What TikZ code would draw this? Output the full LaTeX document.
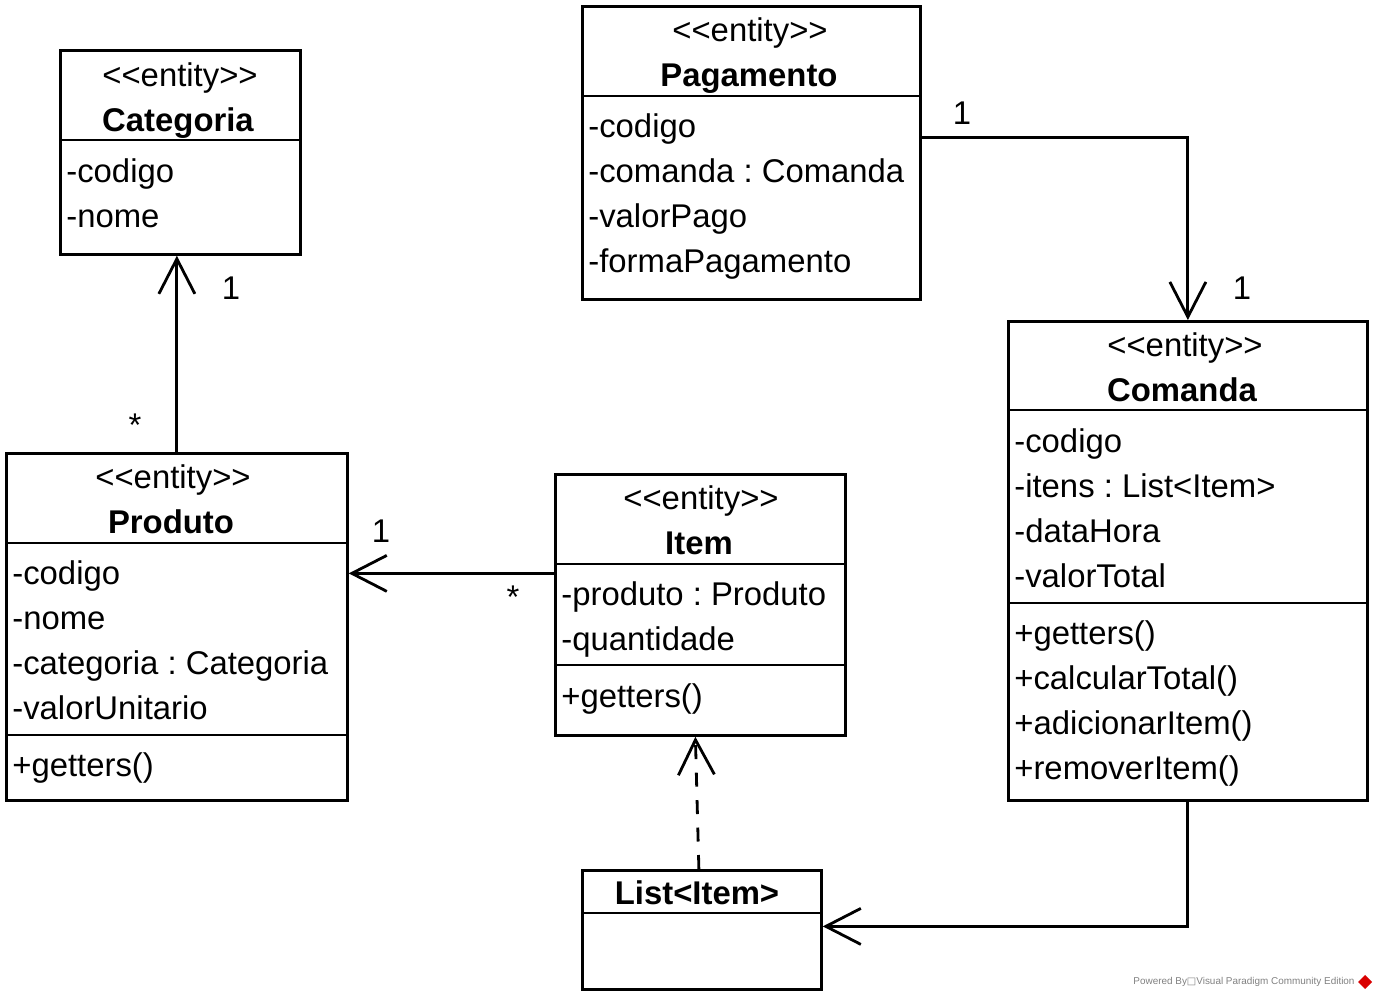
\documentclass[tikz,border=0pt]{standalone}
\usepackage{fontspec}
\setmainfont{Liberation Sans}
\newfontfamily\symfont{DejaVu Sans}
\usetikzlibrary{arrows.meta}
\frenchspacing
\newcommand{\umlfont}{\fontsize{18.7}{22}\selectfont}
\tikzset{
  classbox/.style={draw, line width=1.6pt, inner sep=0, anchor=north west},
  sep/.style={line width=1.6pt},
  txt/.style={anchor=base west, inner sep=0, font=\umlfont},
  ttl/.style={anchor=base, inner sep=0, font=\umlfont\bfseries},
  ster/.style={anchor=base, inner sep=0, font=\umlfont},
  mult/.style={inner sep=0, font=\umlfont},
  assoc/.style={line width=1.6pt, -{Straight Barb[length=0.7cm, width=0.72cm, line width=1.6pt]}},
  dep/.style={assoc, dash pattern=on 0.28cm off 0.27cm}
}
\begin{document}
\begin{tikzpicture}[x=0.02cm, y=-0.02cm]
\useasboundingbox (0,0) rectangle (1377,999);
% Categoria
\node[classbox, minimum width=4.8cm, minimum height=4.08cm] (categoria) at (59,49){};
\draw[sep] (59,140) -- (299,140);
\node[ster] (catst) at (180,87){<{}<entity>{}>};
\node[ttl] (catnm) at (178,132){Categoria};
\node[txt] (cata1) at (66,183){-codigo};
\node[txt] (cata2) at (66,228){-nome};
% Pagamento
\node[classbox, minimum width=6.76cm, minimum height=5.86cm] (pagamento) at (581,5){};
\draw[sep] (581,96) -- (919,96);
\node[ster] (pagst) at (750,42){<{}<entity>{}>};
\node[ttl] (pagnm) at (749,87){Pagamento};
\node[txt] (paga1) at (588,138){-codigo};
\node[txt] (paga2) at (588,183){-comanda : Comanda};
\node[txt] (paga3) at (588,228){-valorPago};
\node[txt] (paga4) at (588,273){-formaPagamento};
% Comanda
\node[classbox, minimum width=7.18cm, minimum height=9.58cm] (comanda) at (1007,320){};
\draw[sep] (1007,410) -- (1366,410);
\draw[sep] (1007,603) -- (1366,603);
\node[ster] (comst) at (1185,357){<{}<entity>{}>};
\node[ttl] (comnm) at (1182,402){Comanda};
\node[txt] (coma1) at (1014,453){-codigo};
\node[txt] (coma2) at (1014,498){-itens : List<Item>};
\node[txt] (coma3) at (1014,543){-dataHora};
\node[txt] (coma4) at (1014,588){-valorTotal};
\node[txt] (como1) at (1014,645){+getters()};
\node[txt] (como2) at (1014,690){+calcularTotal()};
\node[txt] (como3) at (1014,735){+adicionarItem()};
\node[txt] (como4) at (1014,780){+removerItem()};
% Produto
\node[classbox, minimum width=6.82cm, minimum height=6.94cm] (produto) at (5,452){};
\draw[sep] (5,543) -- (346,543);
\draw[sep] (5,735) -- (346,735);
\node[ster] (prost) at (173,489){<{}<entity>{}>};
\node[ttl] (pronm) at (171,534){Produto};
\node[txt] (proa1) at (12,585){-codigo};
\node[txt] (proa2) at (12,630){-nome};
\node[txt] (proa3) at (12,675){-categoria : Categoria};
\node[txt] (proa4) at (12,720){-valorUnitario};
\node[txt] (proo1) at (12,777){+getters()};
% Item
\node[classbox, minimum width=5.8cm, minimum height=5.22cm] (item) at (554,473){};
\draw[sep] (554,564) -- (844,564);
\draw[sep] (554,665) -- (844,665);
\node[ster] (itest) at (701,510){<{}<entity>{}>};
\node[ttl] (itenm) at (699,555){Item};
\node[txt] (itea1) at (561,606){-produto : Produto};
\node[txt] (itea2) at (561,651){-quantidade};
\node[txt] (iteo1) at (561,708){+getters()};
% List<Item>
\node[classbox, minimum width=4.78cm, minimum height=2.38cm] (lista) at (581,869){};
\draw[sep] (581,913) -- (820,913);
\node[ttl] (lisnm) at (697,905){List<Item>};
% connectors
\draw[assoc] (produto.north) -- (produto.north |- categoria.south);
\node[mult] (m1) at (231,288){1};
\node[mult] (m2) at (135,425){*};
\draw[assoc] ([yshift=0.63cm]item.west) coordinate (i1) -- (produto.east |- i1);
\node[mult] (m3) at (381,531){1};
\node[mult] (m4) at (513,597){*};
\draw[assoc] ([yshift=0.31cm]pagamento.east) -| (comanda.north);
\node[mult] (m5) at (962,113){1};
\node[mult] (m6) at (1242,288){1};
\draw[assoc] (comanda.south) |- ([yshift=0.07cm]lista.east);
\draw[dep] ([xshift=-0.06cm]lista.north) -- ([xshift=-0.1cm]item.south);
% watermark
\node[inner sep=0, text=gray, font=\fontsize{5.65}{6}\selectfont] (wm) at (1244,982){Powered By{\symfont □}Visual Paradigm Community Edition};
\fill[red!85!black] (1365,975) -- (1372,982) -- (1365,989) -- (1358,982) -- cycle;
\end{tikzpicture}
\end{document}
